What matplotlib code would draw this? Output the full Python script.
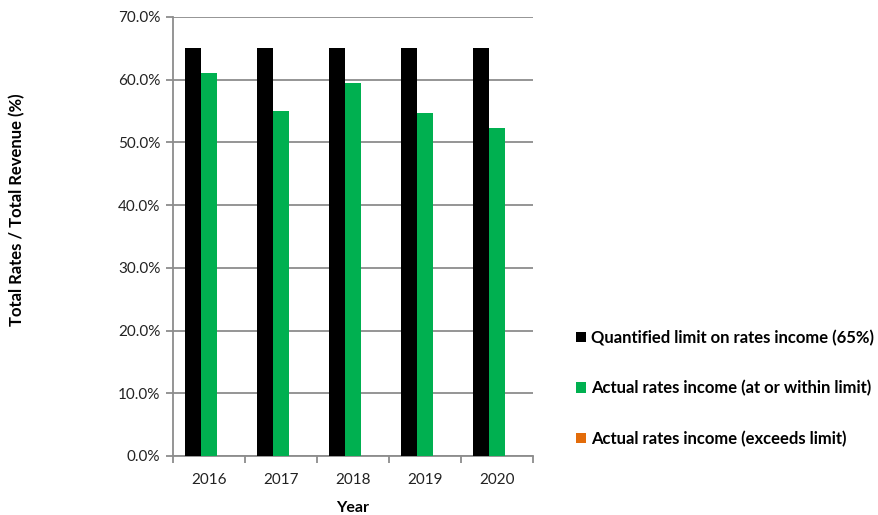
import matplotlib
matplotlib.use("Agg")
import matplotlib.pyplot as plt
from matplotlib.patches import Patch
import numpy as np

plt.rcParams['font.family'] = ['Lato', 'DejaVu Sans']

years = ["2016", "2017", "2018", "2019", "2020"]
limit = [65.0, 65.0, 65.0, 65.0, 65.0]
actual_within = [61.1, 55.0, 59.4, 54.7, 52.3]
actual_exceeds = [0.0, 0.0, 0.0, 0.0, 0.0]
series_names = ["Quantified limit on rates income (65%)",
                "Actual rates income (at or within limit)",
                "Actual rates income (exceeds limit)"]
colors = ["#000000", "#00B050", "#E36C0A"]
yticks = [0, 10, 20, 30, 40, 50, 60, 70]

fig = plt.figure(figsize=(8.79, 5.15), dpi=100)
ax = fig.add_axes([0.1968, 0.1146, 0.4096, 0.8524])

x = np.arange(len(years))
w = 0.22
for i, (vals, c) in enumerate(zip([limit, actual_within, actual_exceeds], colors)):
    ax.bar(x + (i - 1) * w, vals, width=w, color=c, zorder=3)

grid_c = "#8C8C8C"
ax.set_xlim(-0.5, len(years) - 0.5)
ax.set_ylim(0, 70)
ax.set_yticks(yticks)
ax.set_yticklabels([f"{v:.1f}%" for v in yticks], fontsize=11, color="#222222")
ax.yaxis.grid(True, color=grid_c, linewidth=1.3, zorder=0)
ax.set_xticks(x)
ax.set_xticklabels(years, fontsize=11, color="#222222")
ax.set_xticks(np.arange(-0.5, len(years), 1.0), minor=True)
ax.tick_params(axis='x', which='major', length=0, pad=12)
ax.tick_params(axis='x', which='minor', length=5, color=grid_c, width=1.3)
ax.tick_params(axis='y', length=5, color=grid_c, width=1.3, pad=4)
for s in ["top", "right"]:
    ax.spines[s].set_visible(False)
for s in ["left", "bottom"]:
    ax.spines[s].set_color(grid_c)
    ax.spines[s].set_linewidth(1.3)

ax.set_xlabel("Year", fontsize=11.5, fontweight="bold", labelpad=10)
fig.text(0.019, 0.592, "Total Rates / Total Revenue (%)", rotation=90,
         fontsize=12, fontweight="bold", ha="center", va="center")

handles = [Patch(facecolor=c, edgecolor="none") for c in colors]
leg = fig.legend(handles, series_names, loc="upper left",
                 bbox_to_anchor=(0.648, 0.373), frameon=False,
                 prop={"size": 12, "weight": "bold"},
                 handlelength=0.6, handleheight=0.6, handletextpad=0.3,
                 labelspacing=2.05, borderaxespad=0)

fig.savefig("out.png", dpi=100)
